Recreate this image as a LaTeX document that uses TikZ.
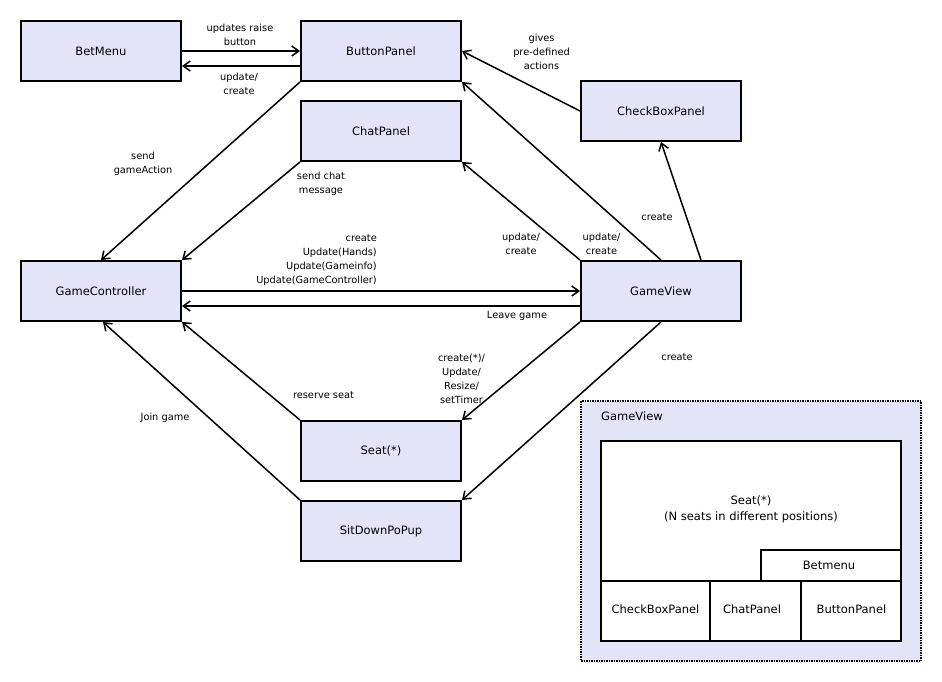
\documentclass[tikz,border=0pt]{standalone}
\usepackage{fontspec}
\setmainfont{DejaVu Sans}
\usetikzlibrary{arrows.meta}
\definecolor{boxfill}{RGB}{228,228,248}
\begin{document}
\begin{tikzpicture}[x=1pt,y=-1pt,
  cls/.style={draw,line width=2pt,fill=boxfill,minimum width=160pt,minimum height=60pt,inner sep=0pt,font=\fontsize{11.5}{14}\selectfont},
  lbl/.style={inner sep=0pt,align=center,font=\fontsize{9.8}{14}\selectfont},
  conn/.style={line width=1.5pt,-{Straight Barb[length=7pt,width=10pt,line width=1.5pt]}},
  part/.style={draw,line width=2pt,fill=white},
  ptxt/.style={inner sep=0pt,align=center,font=\fontsize{11.5}{16}\selectfont}
]
\useasboundingbox (0,0) rectangle (942,682);

% classes
\node[cls] (bet) at (101,51) {BetMenu};
\node[cls] (btn) at (381,51) {ButtonPanel};
\node[cls] (chat) at (381,131) {ChatPanel};
\node[cls] (chk) at (661,111) {CheckBoxPanel};
\node[cls] (gc) at (101,291) {GameController};
\node[cls] (gv) at (661,291) {GameView};
\node[cls] (seat) at (381,451) {Seat(*)};
\node[cls] (sit) at (381,531) {SitDownPoPup};

% connectors
\draw[conn] (bet.east) -- (btn.west);
\draw[conn] ([yshift=-15pt]btn.west) -- ([yshift=-15pt]bet.east);
\draw[conn] (btn.south west) -- (gc.north);
\draw[conn] (chat.south west) -- (gc.north east);
\draw[conn] (chk.west) -- (btn.east);
\draw[conn] (gv.north) -- (btn.south east);
\draw[conn] (gv.north west) -- (chat.south east);
\draw[conn] ([xshift=40pt]gv.north) -- (chk.south);
\draw[conn] (gc.east) -- (gv.west);
\draw[conn] ([yshift=-15pt]gv.west) -- ([yshift=-15pt]gc.east);
\draw[conn] (gv.south west) -- (seat.north east);
\draw[conn] (gv.south) -- (sit.north east);
\draw[conn] (seat.north west) -- (gc.south east);
\draw[conn] (sit.north west) -- ([xshift=2pt]gc.south);

% labels
\node[lbl] (l1) at (240,35) {updates raise\\button};
\node[lbl] (l2) at (239,84) {update/\\create};
\node[lbl] (l3) at (143,164) {send\\gameAction};
\node[lbl] (l4) at (321,184) {send chat\\message};
\node[lbl] (l5) at (541.5,51.5) {gives\\pre-defined\\actions};
\node[lbl] (l6) at (601.5,244) {update/\\create};
\node[lbl] (l7) at (521,244) {update/\\create};
\node[lbl] (l8) at (657,217) {create};
\node[lbl,align=right,anchor=east] (l9) at (377,260) {create\\Update(Hands)\\Update(Gameinfo)\\Update(GameController)};
\node[lbl] (l10) at (517,315.5) {Leave game};
\node[lbl] (l11) at (461.5,378.5) {create(*)/\\Update/\\Resize/\\setTimer};
\node[lbl] (l12) at (677,357) {create};
\node[lbl] (l13) at (323.5,395.5) {reserve seat};
\node[lbl] (l14) at (165,417.5) {Join game};

% GameView layout
\draw[line width=1.5pt,densely dotted,fill=boxfill] (581,401) rectangle (921,661);
\node[lbl,anchor=west,font=\fontsize{11.5}{14}\selectfont] (gvt) at (601,416.5) {GameView};
\draw[part] (601,441) rectangle (901,581);
\node[ptxt] (pseat) at (751,509.5) {Seat(*)\\(N seats in different positions)};
\draw[part] (761,550) rectangle (901,581);
\node[ptxt] (pbet) at (829,565.5) {Betmenu};
\draw[part] (601,581) rectangle (710,641);
\node[ptxt] (pchk) at (655.5,609.5) {CheckBoxPanel};
\draw[part] (710,581) rectangle (801,641);
\node[ptxt] (pchat) at (752,609.5) {ChatPanel};
\draw[part] (801,581) rectangle (901,641);
\node[ptxt] (pbtn) at (851.5,609.5) {ButtonPanel};
\end{tikzpicture}
\end{document}
